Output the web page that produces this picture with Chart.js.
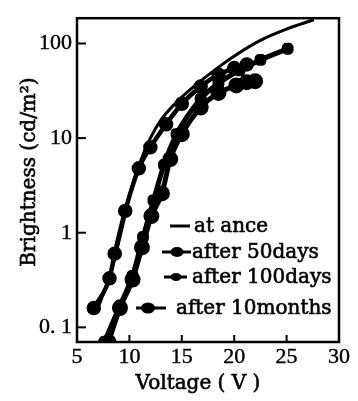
<!DOCTYPE html>
<html><head><meta charset="utf-8">
<script src="https://cdn.jsdelivr.net/npm/chart.js@4/dist/chart.umd.min.js"></script>
<style>html,body{margin:0;padding:0;background:#fff}#c{display:block}</style>
</head><body>
<canvas id="c" width="358" height="401"></canvas>
<script>
// ---- data ----
const xTicks = [5, 10, 15, 20, 25, 30];
const yTickValues = [0.1, 1, 10, 100];
const yTickLabels = ["0. 1", "1", "10", "100"];
const seriesNames = ["at ance", "after 50days", "after 100days", "after 10months"];

const atAnceV = [7.0, 8.3, 9.2, 10.1, 11.0, 12.0, 13.0, 14.5, 16.0, 17.7, 19.7, 22.5, 25.0, 27.6];
const atAnceB = [0.16, 0.4, 1.0, 2.7, 5.5, 10, 15.5, 24, 34, 48, 70, 108, 142, 178];

const d50V = [6.6, 8.1, 8.6, 9.6, 10.9, 12.0, 13.5, 15.0, 16.8, 18.5, 20.0, 21.2];
const d50B = [0.16, 0.33, 0.6, 1.7, 4.8, 8.0, 14, 23, 35, 47, 55, 60];

const d100V = [7.6, 9.1, 10.3, 11.3, 12.3, 13.3, 14.5, 16.8, 18.5, 20.5, 22.5, 25.1];
const d100B = [0.07, 0.17, 0.35, 0.9, 2.2, 5.2, 11, 26, 38, 52, 67, 88];

const m10V = [8.0, 9.1, 10.3, 11.2, 12.1, 13.1, 13.9, 15.0, 16.8, 18.5, 20.2, 21.2, 22.0];
const m10B = [0.07, 0.16, 0.32, 0.7, 1.5, 2.6, 6, 11, 21, 30, 36, 39, 40];

const pts = (xs, ys) => xs.map((x, i) => ({x, y: ys[i]}));

const SERIF = "'Liberation Serif', 'Times New Roman', serif";
const SERIF2 = "'DejaVu Serif', serif";

function heavyText(ctx, s, x, y) {
  ctx.fillText(s, x, y);
  ctx.lineWidth = 0.6;
  ctx.strokeText(s, x, y);
}

const framePlugin = {
  id: 'frame',
  afterDraw(chart) {
    const {ctx, chartArea: a, scales} = chart;
    ctx.save();
    ctx.strokeStyle = '#000';
    ctx.fillStyle = '#000';
    ctx.lineWidth = 2.5;
    ctx.strokeRect(a.left, a.top, a.right - a.left, a.bottom - a.top);
    // inward ticks
    ctx.lineWidth = 2;
    yTickValues.forEach(v => {
      const y = scales.y.getPixelForValue(v);
      ctx.beginPath(); ctx.moveTo(a.left, y); ctx.lineTo(a.left + 9, y); ctx.stroke();
    });
    xTicks.slice(1, -1).forEach(v => {
      const x = scales.x.getPixelForValue(v);
      ctx.beginPath(); ctx.moveTo(x, a.bottom); ctx.lineTo(x, a.bottom - 7); ctx.stroke();
    });
    // axis titles
    ctx.font = "20px " + SERIF2;
    ctx.textAlign = 'center'; ctx.textBaseline = 'middle';
    heavyText(ctx, "Voltage ( V )", 198, 384);
    ctx.save();
    ctx.translate(30, 172); ctx.rotate(-Math.PI / 2);
    heavyText(ctx, "Brightness (cd/m²)", 0, 0);
    ctx.restore();
    // legend
    ctx.textAlign = 'left';
    const rows = [
      {y: 226, lx1: 170, lx2: 190, mx: null, r: 0, tx: 194},
      {y: 252, lx1: 162, lx2: 191, mx: 177, r: 5, tx: 192},
      {y: 277, lx1: 164, lx2: 187, mx: 176, r: 4, tx: 192},
      {y: 308, lx1: 136, lx2: 166, mx: 148, r: 5.5, tx: 176},
    ];
    rows.forEach((r, i) => {
      ctx.lineWidth = 3;
      ctx.beginPath(); ctx.moveTo(r.lx1, r.y); ctx.lineTo(r.lx2, r.y); ctx.stroke();
      if (r.mx !== null) {
        ctx.beginPath(); ctx.ellipse(r.mx, r.y, r.r + 1.5, r.r, 0, 0, Math.PI * 2); ctx.fill();
      }
      ctx.font = "20px " + SERIF2;
      heavyText(ctx, seriesNames[i], r.tx, r.y + 1);
    });
    ctx.restore();
  }
};

new Chart(document.getElementById('c'), {
  type: 'line',
  data: {
    datasets: [
      {label: seriesNames[0], data: pts(atAnceV, atAnceB), borderColor: '#000', borderWidth: 3, pointRadius: 0, cubicInterpolationMode: 'monotone'},
      {label: seriesNames[1], data: pts(d50V, d50B), borderColor: '#000', backgroundColor: '#000', borderWidth: 4.5, pointRadius: 5, cubicInterpolationMode: 'monotone'},
      {label: seriesNames[2], data: pts(d100V, d100B), borderColor: '#000', backgroundColor: '#000', borderWidth: 5, pointRadius: 4, pointStyle: 'rectRounded', cubicInterpolationMode: 'monotone'},
      {label: seriesNames[3], data: pts(m10V, m10B), borderColor: '#000', backgroundColor: '#000', borderWidth: 5, pointRadius: 5.5, cubicInterpolationMode: 'monotone'},
    ]
  },
  options: {
    responsive: false, animation: false,
    layout: {padding: {left: 0, right: 19, top: 7, bottom: 0}},
    plugins: {legend: {display: false}, tooltip: {enabled: false}},
    scales: {
      x: {
        type: 'linear', min: 5, max: 30,
        grid: {display: false, drawTicks: false}, border: {display: false},
        afterBuildTicks: s => { s.ticks = xTicks.map(v => ({value: v})); },
        afterFit: s => { s.height = 59; },
        ticks: {color: '#000', padding: 2, font: {family: SERIF, size: 22},
          textStrokeColor: '#000', textStrokeWidth: 0.4, callback: v => String(v)}
      },
      y: {
        type: 'logarithmic', min: 0.07, max: 185,
        grid: {display: false, drawTicks: false}, border: {display: false},
        afterBuildTicks: s => { s.ticks = yTickValues.map(v => ({value: v})); },
        afterFit: s => { s.width = 77; },
        ticks: {color: '#000', padding: 5, font: {family: SERIF, size: 22},
          textStrokeColor: '#000', textStrokeWidth: 0.4,
          callback: (v) => { const i = yTickValues.indexOf(v); return i >= 0 ? yTickLabels[i] : ''; }}
      }
    }
  },
  plugins: [framePlugin]
});
</script>
</body></html>
